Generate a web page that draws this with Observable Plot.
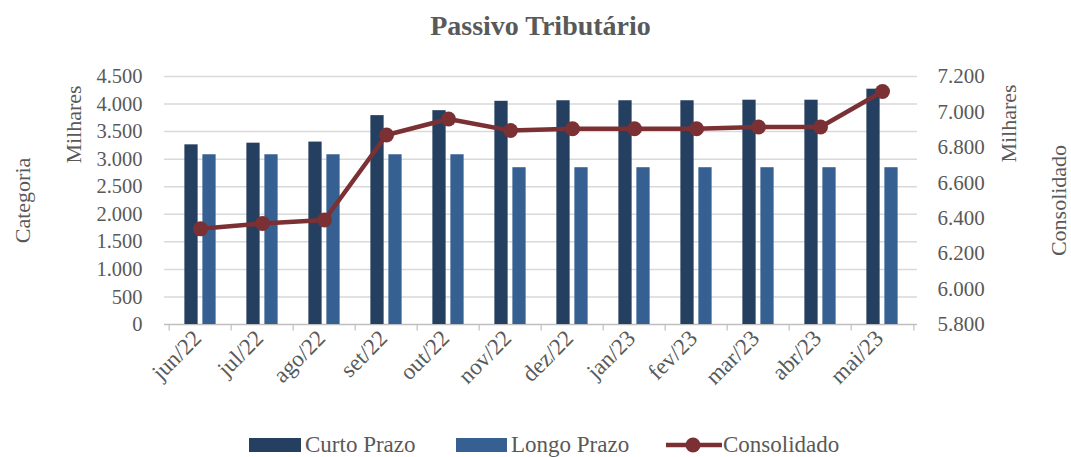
<!DOCTYPE html>
<html><head><meta charset="utf-8">
<script src="https://cdn.jsdelivr.net/npm/d3@7"></script>
<script src="https://cdn.jsdelivr.net/npm/@observablehq/plot@0.6"></script>
<style>
body{margin:0;background:#fff;font-family:"Liberation Serif",serif;}
#wrap{position:relative;width:1071px;height:457px;overflow:hidden;background:#fff;}
#title{position:absolute;top:10px;left:0;width:1081px;text-align:center;font-weight:bold;font-size:28px;color:#595959;}
#chart{position:absolute;top:50px;left:0;}
.lg{position:absolute;font-size:23px;color:#595959;line-height:21px;top:434px;white-space:nowrap;}
.sw{position:absolute;top:438px;height:14px;}
</style></head>
<body>
<div id="wrap">
  <div id="title">Passivo Tributário</div>
  <div id="chart"></div>
  <div class="sw" style="left:249px;width:52px;background:#243f60"></div>
  <div class="lg" style="left:305px">Curto Prazo</div>
  <div class="sw" style="left:456px;width:51px;background:#376092"></div>
  <div class="lg" style="left:511px">Longo Prazo</div>
  <svg style="position:absolute;left:660px;top:434px" width="66" height="22">
    <line x1="6" y1="11" x2="62" y2="11" stroke="#7b3034" stroke-width="4.5"/>
    <circle cx="33" cy="11" r="7.5" fill="#7b3034"/>
  </svg>
  <div class="lg" style="left:723px">Consolidado</div>
</div>
<script>
const months = ["jun/22","jul/22","ago/22","set/22","out/22","nov/22","dez/22","jan/23","fev/23","mar/23","abr/23","mai/23"];
const curto = [3260,3290,3310,3790,3880,4050,4060,4060,4060,4070,4070,4270];
const longo = [3080,3080,3080,3080,3080,2845,2845,2845,2845,2845,2845,2845];
const consolidado = [6340,6370,6390,6870,6960,6895,6905,6905,6905,6915,6915,7115];
const leftTicks = [0,500,1000,1500,2000,2500,3000,3500,4000,4500];
const rightTicks = [5800,6000,6200,6400,6600,6800,7000,7200];

const fmt = d3.formatLocale({decimal:",",thousands:".",grouping:[3],currency:["R$",""]}).format(",d");
const R0 = 5800, R1 = 7200, L1 = 4500;
const toLeft = v => (v - R0) / (R1 - R0) * L1;
const fromLeft = v => Math.round(R0 + v / L1 * (R1 - R0));
const rows = months.map((m, i) => ({m, curto: curto[i], longo: longo[i], cons: consolidado[i]}));

const W = 1071, mL = 164, mR = 154;
const bw = (W - mL - mR) / months.length;
const grey = "#595959";
const lab = (t, anchor, dx, dy) => Plot.text([t], {text: d => d, frameAnchor: anchor, dx, dy, rotate: -90,
  textAnchor: "middle", lineAnchor: "middle", fill: grey, fontSize: 22});

const chart = Plot.plot({
  width: W, height: 380,
  marginTop: 26, marginBottom: 106, marginLeft: mL, marginRight: mR,
  style: {fontFamily: "Liberation Serif", fontSize: "20px", color: grey, background: "transparent", overflow: "visible"},
  x: {domain: months, padding: 0, label: null},
  y: {domain: [0, L1], label: null},
  marks: [
    Plot.ruleY(leftTicks.slice(1), {stroke: "#d9d9d9", strokeWidth: 1.5}),
    Plot.ruleY([0], {stroke: "#bfbfbf", strokeWidth: 1.5}),
    Plot.ruleX(months, {x: d => d, dx: -bw / 2, y1: 0, y2: -120, stroke: "#bfbfbf", strokeWidth: 1.2}),
    Plot.ruleX([months[months.length - 1]], {x: d => d, dx: bw / 2, y1: 0, y2: -120, stroke: "#bfbfbf", strokeWidth: 1.2}),
    Plot.barY(rows, {x: "m", y: "curto", fill: "#243f60", insetLeft: bw / 2 - 16, insetRight: bw / 2 + 2}),
    Plot.barY(rows, {x: "m", y: "longo", fill: "#376092", insetLeft: bw / 2 + 2, insetRight: bw / 2 - 16}),
    Plot.line(rows, {x: "m", y: d => toLeft(d.cons), stroke: "#7b3034", strokeWidth: 4.5}),
    Plot.dot(rows, {x: "m", y: d => toLeft(d.cons), r: 7.5, fill: "#7b3034"}),
    Plot.axisY(leftTicks, {anchor: "left", tickSize: 0, tickPadding: 22, tickFormat: fmt, fill: grey, fontSize: 20.5}),
    Plot.axisY(rightTicks.map(toLeft), {anchor: "right", tickSize: 0, tickPadding: 20, tickFormat: v => fmt(fromLeft(v)), fill: grey, fontSize: 21}),
    Plot.axisX({tickSize: 0, tickRotate: -45, tickPadding: 10, dx: -3, fill: grey, fontSize: 23, label: null}),
    lab("Milhares", "top-left", -91, 48),
    lab("Categoria", "top-left", -142, 124),
    lab("Milhares", "top-right", 91, 47),
    lab("Consolidado", "top-right", 141, 124)
  ]
});
document.getElementById("chart").appendChild(chart);
</script>
</body></html>
